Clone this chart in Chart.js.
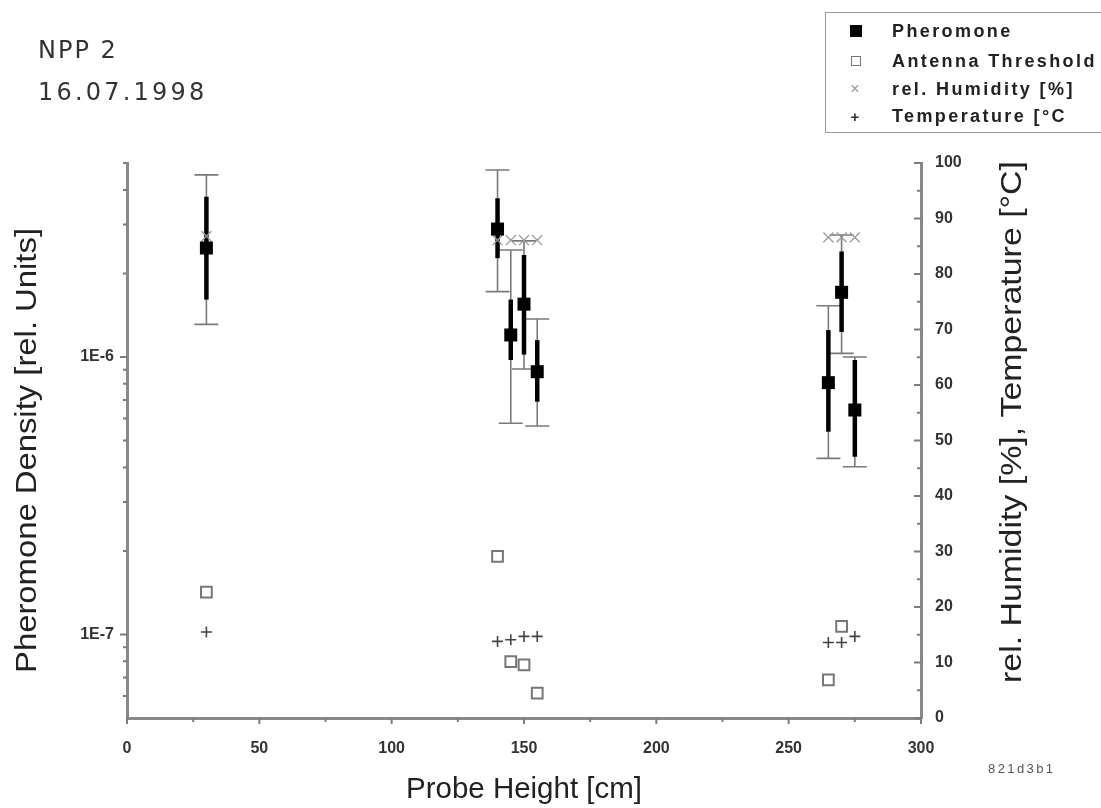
<!DOCTYPE html>
<html><head><meta charset="utf-8">
<script src="https://cdn.jsdelivr.net/npm/chart.js@4.4.1/dist/chart.umd.min.js"></script>
<style>
html,body{margin:0;padding:0;background:#fff;}
#wrap{position:relative;width:1101px;height:808px;overflow:hidden;background:#fff;}
#c{position:absolute;left:0;top:0;}
.ttl{position:absolute;left:38px;font-family:"DejaVu Sans",sans-serif;font-size:24px;color:#333;line-height:28px;white-space:nowrap;}
#legend{position:absolute;left:825px;top:12px;width:320px;height:119px;border:1.5px solid #999;font-family:"Liberation Sans",Arial,sans-serif;font-weight:bold;font-size:18px;color:#222;letter-spacing:2.4px;}
.row{position:absolute;left:0;width:320px;height:24px;line-height:24px;}
.lt{position:absolute;left:66px;top:0;white-space:nowrap;}
.mk{position:absolute;left:30px;top:12px;transform:translate(-50%,-50%);}
#code{position:absolute;left:988px;top:761px;font-family:"Liberation Sans",Arial,sans-serif;font-size:13px;color:#555;letter-spacing:2.4px;}
</style></head>
<body>
<div id="wrap">
<canvas id="c" width="1101" height="808"></canvas>
<div class="ttl" style="top:36px;letter-spacing:2px">NPP 2</div>
<div class="ttl" style="top:78px;letter-spacing:3.2px">16.07.1998</div>
<div id="legend"></div>
<div id="code">821d3b1</div>
</div>
<script>
// ---- data ----
const heights      = [30, 140, 145, 150, 155, 265, 270, 275];
const pheromone    = [2.47e-6, 2.89e-6, 1.20e-6, 1.55e-6, 8.85e-7, 8.08e-7, 1.71e-6, 6.44e-7];
const pheroOuterHi = [4.53e-6, 4.72e-6, 2.43e-6, 2.62e-6, 1.37e-6, 1.53e-6, 2.75e-6, 1.00e-6];
const pheroOuterLo = [1.31e-6, 1.72e-6, 5.77e-7, 9.05e-7, 5.64e-7, 4.31e-7, 1.03e-6, 4.02e-7];
const pheroInnerHi = [3.78e-6, 3.73e-6, 1.61e-6, 2.33e-6, 1.15e-6, 1.25e-6, 2.40e-6, 9.75e-7];
const pheroInnerLo = [1.61e-6, 2.27e-6, 9.75e-7, 1.02e-6, 6.90e-7, 5.38e-7, 1.23e-6, 4.37e-7];
const antenna      = [1.42e-7, 1.91e-7, 7.98e-8, 7.77e-8, 6.14e-8, 6.86e-8, 1.07e-7, 3.84e-8];
const humidity     = [86.8, 86.1, 86.1, 86.1, 86.1, 86.6, 86.6, 86.6];
const temperature  = [15.5, 13.8, 14.1, 14.7, 14.7, 13.6, 13.6, 14.7];
const seriesNames  = ['Pheromone', 'Antenna Threshold', 'rel. Humidity [%]', 'Temperature [°C'];
const leftMajorTicks = [1e-7, 1e-6];
const xTickStep = 50, xMinorStep = 25, rightTickStep = 10, rightMinorStep = 5;
const xRange = [0, 300], rightRange = [0, 100], leftRange = [5e-8, 5e-6];
const xTitle = 'Probe Height [cm]';
const yTitle = 'Pheromone Density [rel. Units]';
const y2Title = 'rel. Humidity [%], Temperature [°C]';

// ---- legend (HTML) ----
const legendMarkers = [
  '<div style="width:12px;height:12px;background:#000"></div>',
  '<div style="width:8px;height:8px;border:1.5px solid #777;background:#fff"></div>',
  '<div style="color:#999;font-weight:normal;font-size:16px;line-height:16px">×</div>',
  '<div style="color:#333;font-weight:bold;font-size:15px;line-height:15px">+</div>'
];
const legendRowsTop = [6, 36, 64, 91];
const lg = document.getElementById('legend');
seriesNames.forEach((n, i) => {
  const r = document.createElement('div');
  r.className = 'row'; r.style.top = legendRowsTop[i] + 'px';
  r.innerHTML = '<div class="mk">' + legendMarkers[i] + '</div><div class="lt">' + n + '</div>';
  lg.appendChild(r);
});

const pts = (ys) => heights.map((h, i) => ({x: h, y: ys[i]}));

// ---- plugins ----
const errorBars = {
  id: 'errorBars',
  beforeDatasetsDraw(chart) {
    const ctx = chart.ctx, xs = chart.scales.x, ys = chart.scales.y;
    ctx.save();
    heights.forEach((h, i) => {
      const x = xs.getPixelForValue(h);
      const yh = ys.getPixelForValue(pheroOuterHi[i]);
      const yl = ys.getPixelForValue(pheroOuterLo[i]);
      ctx.strokeStyle = '#7a7a7a'; ctx.lineWidth = 1.6;
      ctx.beginPath();
      ctx.moveTo(x, yh); ctx.lineTo(x, yl);
      ctx.moveTo(x - 12, yh); ctx.lineTo(x + 12, yh);
      ctx.moveTo(x - 12, yl); ctx.lineTo(x + 12, yl);
      ctx.stroke();
    });
    heights.forEach((h, i) => {
      const x = xs.getPixelForValue(h);
      ctx.strokeStyle = '#000'; ctx.lineWidth = 4.5;
      ctx.beginPath();
      ctx.moveTo(x, ys.getPixelForValue(pheroInnerHi[i]));
      ctx.lineTo(x, ys.getPixelForValue(pheroInnerLo[i]));
      ctx.stroke();
    });
    ctx.restore();
  }
};

const axisDecor = {
  id: 'axisDecor',
  afterDraw(chart) {
    const ctx = chart.ctx, a = chart.chartArea;
    const xs = chart.scales.x, ys = chart.scales.y, y2 = chart.scales.y2;
    ctx.save();
    ctx.strokeStyle = '#7d7d7d'; ctx.lineWidth = 2;
    ctx.beginPath();
    for (let v = xRange[0]; v <= xRange[1]; v += xMinorStep) {
      const x = xs.getPixelForValue(v), len = (v % xTickStep === 0) ? 6 : 4;
      ctx.moveTo(x, a.bottom); ctx.lineTo(x, a.bottom + len);
    }
    for (let e = -9; e <= -4; e++) {
      for (let k = 1; k <= 9; k++) {
        const v = k * Math.pow(10, e);
        if (v <= leftRange[0] * 1.0001 || v > leftRange[1]) continue;
        const y = ys.getPixelForValue(v), len = (k === 1) ? 7 : 4;
        ctx.moveTo(a.left, y); ctx.lineTo(a.left - len, y);
      }
    }
    for (let v = rightRange[0]; v <= rightRange[1]; v += rightMinorStep) {
      const y = y2.getPixelForValue(v), len = (v % rightTickStep === 0) ? 7 : 4;
      ctx.moveTo(a.right, y); ctx.lineTo(a.right - len, y);
    }
    ctx.stroke();

    ctx.fillStyle = '#222';
    ctx.textBaseline = 'middle';
    ctx.font = '29px "Liberation Sans", Arial, sans-serif';
    let w = ctx.measureText(yTitle).width;
    ctx.save();
    ctx.translate(28, (a.top + a.bottom) / 2 + 10);
    ctx.rotate(-Math.PI / 2);
    ctx.scale(445 / w, 1);
    ctx.textAlign = 'center';
    ctx.fillText(yTitle, 0, 0);
    ctx.restore();

    w = ctx.measureText(xTitle).width;
    ctx.save();
    ctx.translate((a.left + a.right) / 2, 790);
    ctx.scale(236 / w, 1);
    ctx.textAlign = 'center';
    ctx.fillText(xTitle, 0, 0);
    ctx.restore();

    ctx.font = '30px "Liberation Sans", Arial, sans-serif';
    w = ctx.measureText(y2Title).width;
    ctx.save();
    ctx.translate(1013, 683);
    ctx.rotate(-Math.PI / 2);
    ctx.scale(522 / w, 1);
    ctx.textAlign = 'left';
    ctx.fillText(y2Title, 0, 0);
    ctx.restore();
    ctx.restore();
  }
};

const tickFont = {family: '"Liberation Sans", Arial, sans-serif', size: 16, weight: 'bold'};

new Chart(document.getElementById('c'), {
  type: 'scatter',
  data: {
    datasets: [
      {label: seriesNames[0], data: pts(pheromone), yAxisID: 'y', pointStyle: 'rect', pointRadius: 9.2, pointHoverRadius: 9.2, backgroundColor: '#000', borderColor: '#000', borderWidth: 0},
      {label: seriesNames[1], data: pts(antenna), yAxisID: 'y', pointStyle: 'rect', pointRadius: 7.6, pointHoverRadius: 7.6, backgroundColor: '#fff', borderColor: '#777', borderWidth: 2, clip: false},
      {label: seriesNames[2], data: pts(humidity), yAxisID: 'y2', pointStyle: 'crossRot', pointRadius: 7, pointHoverRadius: 7, borderColor: '#9a9a9a', borderWidth: 1.3},
      {label: seriesNames[3], data: pts(temperature), yAxisID: 'y2', pointStyle: 'cross', pointRadius: 5.5, pointHoverRadius: 5.5, borderColor: '#444', borderWidth: 1.6}
    ]
  },
  options: {
    responsive: false,
    animation: false,
    devicePixelRatio: 1,
    layout: {padding: {top: 163, left: 0, right: 0, bottom: 0}},
    plugins: {legend: {display: false}, tooltip: {enabled: false}, title: {display: false}},
    scales: {
      x: {
        type: 'linear', position: 'bottom', min: xRange[0], max: xRange[1],
        afterFit(s) { s.height = 90; },
        ticks: {stepSize: xTickStep, padding: 21, color: '#333', font: tickFont, maxRotation: 0},
        grid: {display: true, drawOnChartArea: false, drawTicks: false},
        border: {display: true, color: '#888', width: 3}
      },
      y: {
        type: 'logarithmic', position: 'left', min: leftRange[0], max: leftRange[1],
        afterFit(s) { s.width = 127; },
        afterBuildTicks(s) { s.ticks = leftMajorTicks.map(v => ({value: v})); },
        ticks: {padding: 13, color: '#333', font: tickFont, autoSkip: false,
          callback: v => v.toExponential(0).toUpperCase()},
        grid: {display: true, drawOnChartArea: false, drawTicks: false},
        border: {display: true, color: '#888', width: 3}
      },
      y2: {
        type: 'linear', position: 'right', min: rightRange[0], max: rightRange[1],
        afterFit(s) { s.width = 180; },
        ticks: {stepSize: rightTickStep, padding: 14, color: '#333', font: tickFont},
        grid: {display: true, drawOnChartArea: false, drawTicks: false},
        border: {display: true, color: '#888', width: 3}
      }
    }
  },
  plugins: [errorBars, axisDecor]
});
</script>
</body></html>
